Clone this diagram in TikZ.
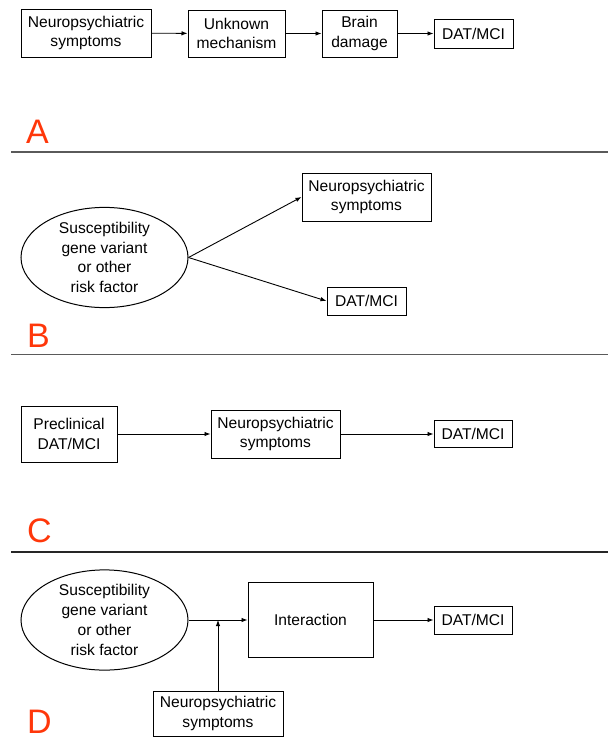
\documentclass[tikz,border=0pt]{standalone}
\usepackage{fontspec}
\setmainfont{Liberation Sans}
\usetikzlibrary{arrows.meta,shapes.geometric}
\definecolor{panelred}{RGB}{255,55,10}
\definecolor{rulegray}{RGB}{90,90,90}

\begin{document}
\begin{tikzpicture}[x=1pt, y=-1pt,
    box/.style={draw, line width=1pt, align=center, inner sep=0pt,
        font=\fontsize{15.6}{19.8}\selectfont},
    oval/.style={box, ellipse},
    link/.style={line width=0.9pt, -{Latex[length=6pt,width=4.5pt]}},
    letter/.style={panelred, anchor=base west, inner sep=0pt,
        font=\fontsize{34}{34}\selectfont},
    sep/.style={rulegray, line width=1.5pt}]
    \useasboundingbox (0,0) rectangle (608,739);

    % Panel A
    \node[box, minimum width=130, minimum height=48] (a1) at (86,33) {Neuropsychiatric\\symptoms};
    \node[box, minimum width=97, minimum height=47] (a2) at (236.5,33.5) {Unknown\\mechanism};
    \node[box, minimum width=75, minimum height=47] (a3) at (359.5,33.5) {Brain\\damage};
    \node[box, minimum width=79, minimum height=29] (a4) at (473.5,33.5) {DAT/MCI};
    \draw[link] (a1) -- (a2);
    \draw[link] (a2) -- (a3);
    \draw[link] (a3) -- (a4);
    \node[letter] (labA) at (26,143) {A};
    \draw[sep] (11,152) -- (608,152);

    % Panel B
    \node[oval, minimum width=167, minimum height=87] (bell) at (104.5,257.5) {Susceptibility\\gene variant\\or other\\risk factor};
    \node[box, minimum width=129, minimum height=48] (b1) at (366.5,197) {Neuropsychiatric\\symptoms};
    \node[box, minimum width=79, minimum height=28] (b2) at (366.5,301) {DAT/MCI};
    \draw[link] (bell.east) -- (b1.west);
    \draw[link] (bell.east) -- (b2.west);
    \node[letter] (labB) at (27,347) {B};
    \draw[sep] (11,354.5) -- (608,354.5);

    % Panel C
    \node[box, minimum width=96, minimum height=56] (c1) at (69,434) {Preclinical\\DAT/MCI};
    \node[box, minimum width=129, minimum height=48] (c2) at (275.5,434) {Neuropsychiatric\\symptoms};
    \node[box, minimum width=78, minimum height=27] (c3) at (473,434) {DAT/MCI};
    \draw[link] (c1) -- (c2);
    \draw[link] (c2) -- (c3);
    \node[letter] (labC) at (27,542) {C};
    \draw[sep, black!85, line width=2pt] (11,552) -- (608,552);

    % Panel D
    \node[oval, minimum width=167, minimum height=90] (dell) at (104.5,620) {Susceptibility\\gene variant\\or other\\risk factor};
    \node[box, minimum width=125, minimum height=75] (d1) at (310.5,620) {Interaction};
    \node[box, minimum width=78, minimum height=28] (d2) at (473,620) {DAT/MCI};
    \node[box, minimum width=130, minimum height=45] (d3) at (218,713.5) {Neuropsychiatric\\symptoms};
    \coordinate (dj) at (d3.north |- d1.west);
    \draw[link] (dell.east) -- (d1.west);
    \draw[link] (d3.north) -- (dj);
    \draw[link] (d1) -- (d2);
    \node[letter] (labD) at (27,733) {D};
\end{tikzpicture}
\end{document}
